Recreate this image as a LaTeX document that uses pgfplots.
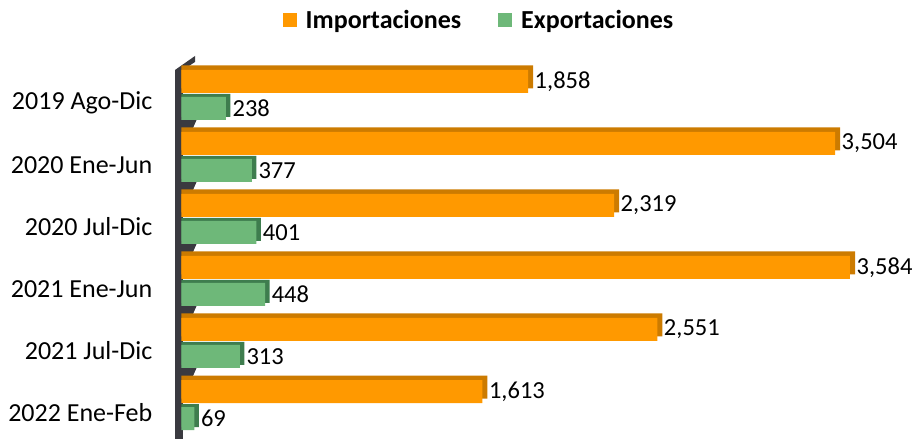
\documentclass[border=0pt]{standalone}
\usepackage{pgfplots}
\pgfplotsset{compat=1.18}
\usepackage{pgfplotstable}
\usepackage{fontspec}
\setmainfont{Carlito}
\definecolor{orfront}{RGB}{255,153,0}
\definecolor{ortop}{RGB}{204,123,0}
\definecolor{grfront}{RGB}{110,184,121}
\definecolor{grside}{RGB}{62,125,78}
\definecolor{wallc}{RGB}{58,58,64}
\pgfplotstableread{
y imp exp
5 1858 238
4 3504 377
3 2319 401
2 3584 448
1 2551 313
0 1613 69
}\datatable
\begin{document}
\begin{tikzpicture}
% 3D wall (decoration)
\begin{scope}[x=1bp,y=1bp]
\fill[wallc] (-6.5,0) -- (-6.5,369) -- (13.5,383) -- (13.5,377) -- (1.5,369) -- (1.5,0) -- cycle;
\foreach \b in {124,186,248,310,372} {
  \fill[wallc] (1.5,{439-\b-4}) -- (1.5,{439-\b+5}) -- (15.5,{439-\b+5}) -- (11.5,{439-\b-4}) -- cycle;
}
\end{scope}
\begin{axis}[
  at={(0,0)}, anchor=south west,
  scale only axis,
  width=727.4bp, height=387.5bp,
  xmin=0, xmax=3900,
  ymin=-0.548, ymax=5.70,
  xbar,
  axis line style={draw=none},
  hide x axis,
  axis y line*=left,
  ytick={0,...,5},
  yticklabels={2022 Ene-Feb,2021 Jul-Dic,2021 Ene-Jun,2020 Jul-Dic,2020 Ene-Jun,2019 Ago-Dic},
  major tick length=0pt,
  yticklabel style={font=\fontsize{26bp}{30bp}\selectfont, anchor=east, inner sep=0pt, xshift=-29bp, yshift=-8bp},
  /pgf/number format/assume math mode=true,
  /pgf/number format/1000 sep={,},
  legend style={at={(0.409,1.081)}, anchor=center, draw=none, fill=none,
    legend columns=2, font=\fontsize{26bp}{30bp}\selectfont\bfseries,
    /tikz/every odd column/.append style={column sep=7bp},
    /tikz/every even column/.append style={column sep=35bp},
    legend cell align=left, inner sep=0pt},
  legend image code/.code={\fill[#1] (0bp,-7bp) rectangle (14bp,7bp);},
  clip=false,
]
\addplot[fill=ortop, draw=none, bar width=23bp, bar shift=18bp, forget plot]
  table[x expr=\thisrow{imp}+27, y=y] {\datatable};
\addplot[fill=grside, draw=none, bar width=23bp, bar shift=-10.5bp, forget plot]
  table[x expr=\thisrow{exp}+24, y=y] {\datatable};
\addplot[fill=orfront, draw=none, bar width=23bp, bar shift=13.5bp,
  nodes near coords, nodes near coords style={font=\fontsize{24.5bp}{29bp}\selectfont, anchor=west, inner sep=0pt, xshift=6.5bp, text=black}]
  table[x=imp, y=y] {\datatable};
\addlegendentry{Importaciones}
\addplot[fill=grfront, draw=none, bar width=23bp, bar shift=-13.5bp,
  nodes near coords, nodes near coords style={font=\fontsize{24.5bp}{29bp}\selectfont, anchor=west, inner sep=0pt, xshift=6.5bp, text=black}]
  table[x=exp, y=y] {\datatable};
\addlegendentry{Exportaciones}
\end{axis}
\pgfresetboundingbox
\useasboundingbox (-181.5bp,0bp) rectangle (732.5bp,439bp);
\end{tikzpicture}
\end{document}
